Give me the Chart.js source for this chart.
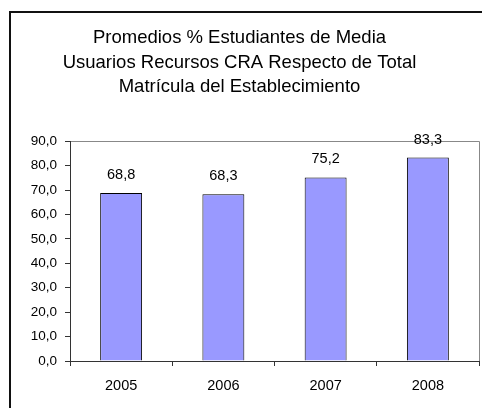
<!DOCTYPE html>
<html>
<head>
<meta charset="utf-8">
<script src="https://cdn.jsdelivr.net/npm/chart.js@4.4.0/dist/chart.umd.min.js"></script>
<style>
  html, body { margin: 0; padding: 0; background: #fff; overflow: hidden; width: 482px; height: 408px; }
  #frame { position: absolute; left: 9px; top: 11px; width: 600px; height: 600px;
           border-left: 2px solid #111; border-top: 2px solid #111; }
  #myChart { position: absolute; left: 0; top: 0; }
</style>
</head>
<body>
<div id="frame"></div>
<canvas id="myChart" width="500" height="408"></canvas>
<script>
let titleLines = [
    'Promedios % Estudiantes de Media',
    'Usuarios Recursos CRA Respecto de Total',
    'Matrícula del Establecimiento'
];
let years = ['2005', '2006', '2007', '2008'];
let promedios = [68.8, 68.3, 75.2, 83.3];

const fontFamily = '"Liberation Sans", Arial, sans-serif';

function comma(v) {
    return Number(v).toFixed(1).replace('.', ',');
}

// values over the bars
const valueLabels = {
    id: 'valueLabels',
    afterDatasetsDraw(chart) {
        const ctx = chart.ctx;
        const meta = chart.getDatasetMeta(0);
        ctx.save();
        ctx.font = '14.5px ' + fontFamily;
        ctx.fillStyle = '#000';
        ctx.textAlign = 'center';
        ctx.textBaseline = 'middle';
        meta.data.forEach((bar, i) => {
            ctx.fillText(comma(promedios[i]), bar.x, bar.y - 18);
        });
        ctx.restore();
    }
};

let config = {
    type: 'bar',
    data: {
        labels: years,
        datasets: [{
            data: promedios,
            backgroundColor: '#9999FF',
            borderColor: '#000',
            borderWidth: 1,
            barPercentage: 0.41,
            categoryPercentage: 1.0
        }]
    },
    options: {
        responsive: false,
        animation: false,
        devicePixelRatio: 1,
        layout: { padding: { left: 0, right: 21, top: 0, bottom: 0 } },
        plugins: {
            legend: { display: false },
            tooltip: { enabled: false },
            title: {
                display: true,
                text: titleLines,
                color: '#000',
                font: { family: fontFamily, size: 18.5, weight: 'normal', lineHeight: 1.32 },
                padding: { top: 26, bottom: 42 }
            }
        },
        scales: {
            x: {
                grid: {
                    offset: true,
                    color: (c) => c.type === 'scale' ? '#888' : 'transparent',
                    tickColor: '#333',
                    tickLength: 5
                },
                border: { color: '#333', width: 1 },
                ticks: {
                    color: '#000',
                    padding: 11,
                    font: { family: fontFamily, size: 14.5 }
                },
                afterFit: (s) => { s.height = 47; }
            },
            y: {
                min: 0,
                max: 90,
                grid: {
                    color: (c) => (c.tick && c.tick.value === 90) ? '#888' : 'transparent',
                    tickColor: '#333',
                    tickLength: 5
                },
                border: { color: '#333', width: 1 },
                ticks: {
                    stepSize: 10,
                    color: '#000',
                    padding: 8,
                    font: { family: fontFamily, size: 13.5 },
                    callback: (v) => comma(v)
                },
                afterFit: (s) => { s.width = 70; }
            }
        }
    },
    plugins: [valueLabels]
};

let myChart = new Chart(document.getElementById('myChart'), config);
</script>
</body>
</html>
